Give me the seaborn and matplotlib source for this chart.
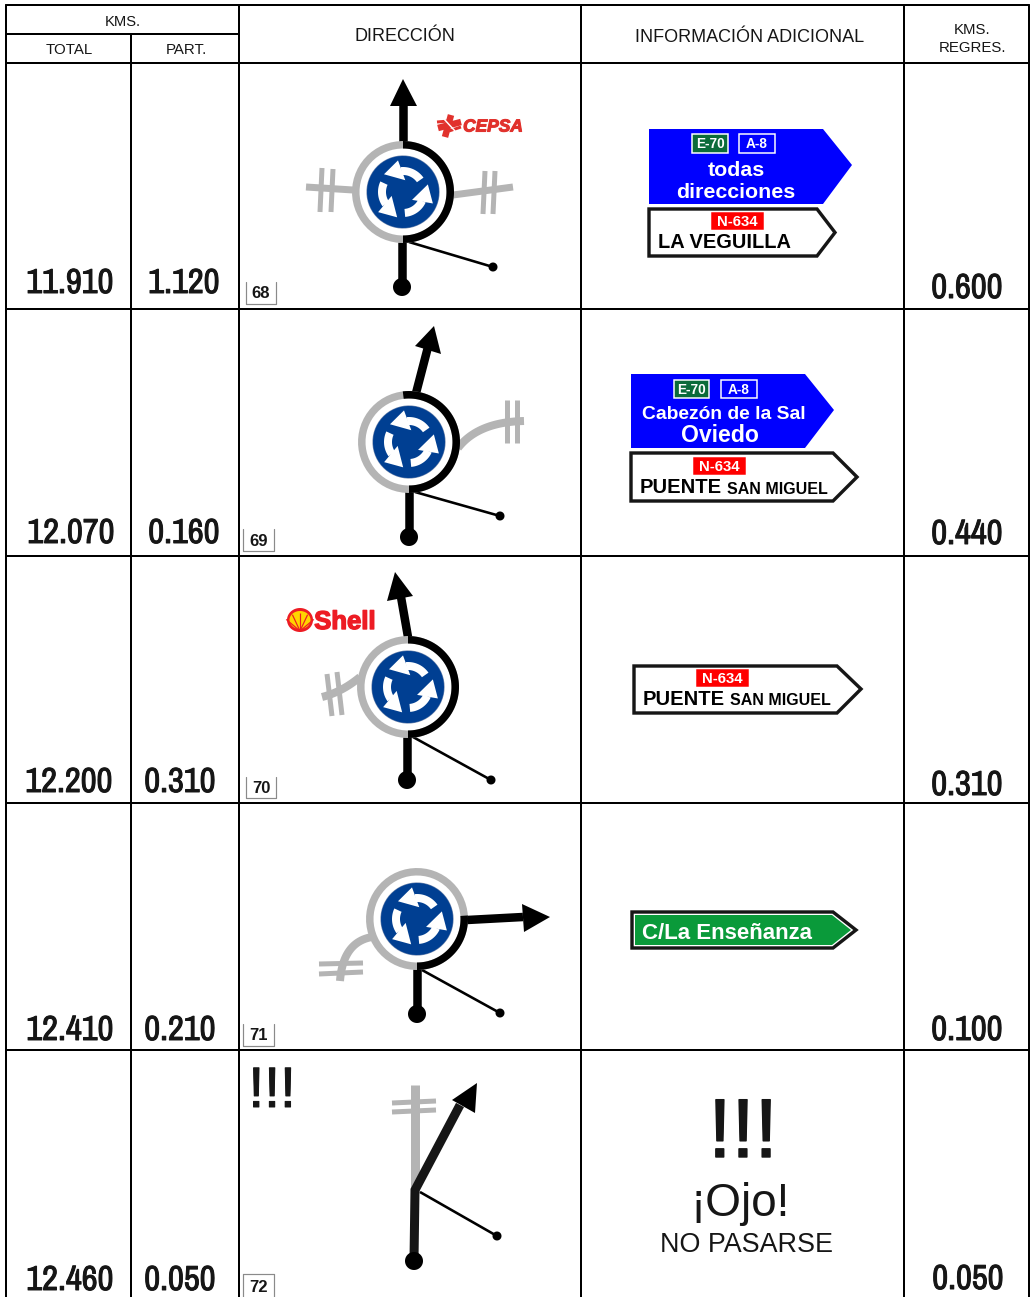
import matplotlib
matplotlib.use("Agg")
import matplotlib.patheffects as pe
import matplotlib.pyplot as plt
import numpy as np
import seaborn as sns

# values of the roadbook
total_km = ["11.910", "12.070", "12.200", "12.410", "12.460"]
part_km = ["1.120", "0.160", "0.310", "0.210", "0.050"]
regres_km = ["0.600", "0.440", "0.310", "0.100", "0.050"]
note_ids = ["68", "69", "70", "71", "72"]
road_e = "E-70"
road_a = "A-8"
road_n = "N-634"

# where the values sit in each row
total_xy = [(70, 283), (71, 533), (69, 782), (70, 1030), (70, 1280)]
part_xy = [(184, 283), (184, 533), (180, 782), (180, 1030), (180, 1280)]
regres_xy = [(967, 288), (967, 534), (967, 785), (967, 1030), (968, 1279)]
note_box = [(246, 276, 282, 304), (243, 274, 529, 551), (246, 276, 777, 798),
            (243, 274, 1024, 1046), (243, 274, 1274, 1300)]
col_x = [6, 131, 239, 581, 904, 1029]
row_y = [63, 309, 556, 803, 1050]

GREY = "#b4b4b4"
DISC = "#003f92"
INK = "#161616"
NARROW = ["Archivo Narrow", "Roboto Condensed", "Liberation Sans Narrow", "Liberation Sans"]

sns.set_theme(style="white")
plt.rcParams["font.family"] = ["Liberation Sans", "DejaVu Sans"]

fig = plt.figure(figsize=(10.34, 12.97), dpi=100)
ax = fig.add_axes([0, 0, 1, 1])
ax.set_xlim(0, 1034)
ax.set_ylim(1297, 0)
ax.axis("off")


def lw(px):
    return px * 0.72


def seg(pts, color="black", w=8.5, z=3, cap="butt"):
    xs, ys = zip(*pts)
    ax.plot(xs, ys, color=color, lw=lw(w), solid_capstyle=cap, solid_joinstyle="miter", zorder=z)


def dot(x, y, r=9, z=5):
    ax.fill(x + r * np.cos(np.linspace(0, 2 * np.pi, 60)), y + r * np.sin(np.linspace(0, 2 * np.pi, 60)),
            color="black", lw=0, zorder=z)


def arc(cx, cy, r0, r1, a0, a1, color, z=4):
    t = np.radians(np.linspace(a0, a1, 60))
    xs = np.r_[cx + r1 * np.cos(t), cx + r0 * np.cos(t[::-1])]
    ys = np.r_[cy - r1 * np.sin(t), cy - r0 * np.sin(t[::-1])]
    ax.fill(xs, ys, color=color, lw=0, zorder=z)


def curve(p0, p1, p2, color=GREY, w=8):
    t = np.linspace(0, 1, 30)
    xs = (1 - t) ** 2 * p0[0] + 2 * t * (1 - t) * p1[0] + t ** 2 * p2[0]
    ys = (1 - t) ** 2 * p0[1] + 2 * t * (1 - t) * p1[1] + t ** 2 * p2[1]
    ax.plot(xs, ys, color=color, lw=lw(w), solid_capstyle="butt", zorder=2)


def head(tip, b0, b1):
    ax.fill([tip[0], b0[0], b1[0]], [tip[1], b0[1], b1[1]], color="black", lw=0, zorder=5)


def roundabout(cx, cy, black_to=90, rot=0):
    arc(cx, cy, 43.5, 51, 0, 360, GREY)
    arc(cx, cy, 43.5, 51, -90, black_to, "black", z=4.5)
    arc(cx, cy, 0, 36.6, 0, 360, "#6f86ad", z=5)
    arc(cx, cy, 0, 36, 0, 360, DISC, z=5.2)
    for k in range(3):
        off = rot + k * 120
        arc(cx, cy, 17, 25, 35 + off, 95 + off, "white", z=6)
        a = np.radians([99 + off, 79 + off, 137 + off])
        r = np.array([32, 12, 26])
        ax.fill(cx + r * np.cos(a), cy - r * np.sin(a), color="white", lw=0, zorder=6)


def stem(x0, y0, x1, y1, tx0, ty0, tx1, ty1):
    seg([(x0, y0), (x1, y1)], w=8.5)
    dot(x1, y1)
    seg([(tx0, ty0), (tx1, ty1)], w=2.6)
    dot(tx1, ty1, r=4.5)


def badge(x0, x1, y0, y1, label, fill, edge="white", size=9.8):
    ax.fill([x0, x1, x1, x0], [y0, y0, y1, y1], facecolor=fill, edgecolor=edge, lw=lw(1.5), zorder=8)
    ax.text((x0 + x1) / 2, (y0 + y1) / 2 + 1, label, color="white", fontsize=size, fontweight="bold",
            ha="center", va="center", zorder=9)


def sign(x0, x1, xt, y0, y1, yt, fill, edge=None):
    xs = [x0, x1, xt, x1, x0]
    ys = [y0, y0, yt, y1, y1]
    if edge:
        ax.fill(xs, ys, facecolor=fill, edgecolor=edge, lw=lw(3.4), joinstyle="miter", zorder=7)
    else:
        ax.fill(xs, ys, color=fill, lw=0, zorder=7)


def txt(x, y, s, size, color=INK, ha="center", weight="normal", z=9, **kw):
    return ax.text(x, y + 1.5, s, fontsize=size, color=color, ha=ha, va="center", fontweight=weight, zorder=z, **kw)


# table rules
for x in col_x:
    y_top = 34 if x == col_x[1] else 5
    ax.plot([x, x], [y_top, 1297], color="black", lw=lw(2), zorder=1)
ax.plot([col_x[0], col_x[-1]], [5, 5], color="black", lw=lw(2), zorder=1)
ax.plot([col_x[0], col_x[2]], [34, 34], color="black", lw=lw(2), zorder=1)
for y in row_y:
    ax.plot([col_x[0], col_x[-1]], [y, y], color="black", lw=lw(2), zorder=1)

# header
txt(123, 21, "KMS.", 10.6)
txt(69, 48, "TOTAL", 10.8)
txt(186, 48, "PART.", 10.8)
txt(405, 35, "DIRECCIÓN", 13)
txt(750, 36, "INFORMACIÓN ADICIONAL", 13)
txt(972, 28, "KMS.", 10.8)
txt(972, 46, "REGRES.", 10.8)

# kilometre columns, the narrow font only comes in regular so thicken it
bold_num = [pe.withStroke(linewidth=0.7, foreground=INK)]
for vals, pos in [(total_km, total_xy), (part_km, part_xy), (regres_km, regres_xy)]:
    for v, (x, y) in zip(vals, pos):
        ax.text(x, y, v, fontsize=25, family=NARROW, fontweight="bold", color=INK, ha="center", va="center",
                path_effects=bold_num)

# note numbers
for n, (x0, x1, y0, y1) in zip(note_ids, note_box):
    ax.plot([x0, x0, x1, x1], [y0, y1, y1, y0], color="#8a8a8a", lw=lw(1.2), zorder=2)
    if n == "72":
        ax.plot([x0, x1], [y0, y0], color="#8a8a8a", lw=lw(1.2), zorder=2)
    ax.text((x0 + x1) / 2, (y0 + y1) / 2 + 1, n, fontsize=12, color=INK, fontweight="bold", ha="center", va="center")

# 68
seg([(306, 187), (353, 190)], GREY, 7, 2)
seg([(322, 168), (320, 212)], GREY, 5, 2)
seg([(333, 169), (331, 212)], GREY, 5, 2)
seg([(453, 195), (513, 187)], GREY, 7, 2)
seg([(485, 171), (483, 214)], GREY, 5, 2)
seg([(495, 171), (493, 214)], GREY, 5, 2)
roundabout(403, 192)
seg([(403, 143), (403, 104)])
head((403, 79), (390, 106), (417, 106))
stem(402, 242, 402, 287, 409, 242, 493, 267)
# cepsa
red = "#e1322d"
seg([(438, 128), (461, 122)], red, 6.5, 3)
seg([(451, 115), (445, 137)], red, 6.5, 3)
seg([(437, 122), (449, 121)], red, 3, 3)
seg([(449, 131), (461, 127)], red, 3, 3)
seg([(444, 119), (455, 131)], "white", 1.5, 3.1)
ax.text(493, 127, "CEPSA", fontsize=12.5, color=red, fontweight="bold", style="italic", ha="center", va="center",
        path_effects=[pe.withStroke(linewidth=0.8, foreground=red)])

# 69
curve((458, 448), (478, 422), (524, 421))
seg([(507, 400), (507, 443)], GREY, 5, 2)
seg([(517, 400), (517, 443)], GREY, 5, 2)
roundabout(409, 442, black_to=97)
seg([(415, 397), (428, 347)])
head((434, 326), (415, 346), (441, 354))
stem(409, 491, 409, 537, 415, 492, 500, 516)

# 70
curve((360, 677), (342, 692), (322, 697))
seg([(327, 674), (332, 716)], GREY, 5, 2)
seg([(337, 672), (342, 715)], GREY, 5, 2)
roundabout(408, 687)
seg([(408, 637), (401, 597)])
head((395, 572), (387, 601), (413, 596))
stem(407, 737, 407, 780, 413, 737, 491, 780)
# shell
s_red = "#ed1c24"
t_sh = np.linspace(0, 2 * np.pi, 60)
ax.fill(300 + 13 * np.cos(t_sh), 620 + 12 * np.sin(t_sh), color=s_red, lw=0, zorder=3)
ax.fill(300 + 10.5 * np.cos(t_sh), 620 + 9 * np.sin(t_sh), color="#ffd500", lw=0, zorder=3.1)
for a in [40, 65, 90, 115, 140]:
    ra = np.radians(a)
    seg([(300, 631), (300 + 18 * np.cos(ra), 631 - 18 * np.sin(ra))], s_red, 1.2, 3.2)
ax.text(345, 622, "Shell", fontsize=18.5, color=s_red, fontweight="bold", ha="center", va="center",
        path_effects=[pe.withStroke(linewidth=1, foreground=s_red)])

# 71
curve((372, 937), (343, 942), (340, 981))
seg([(319, 964), (363, 963)], GREY, 5, 2)
seg([(319, 974), (363, 972)], GREY, 5, 2)
roundabout(417, 919, black_to=4)
seg([(467, 920), (523, 917)])
head((550, 917), (522, 904), (524, 932))
stem(417, 969, 417, 1014, 422, 970, 500, 1013)

# 72
ax.text(272, 1092, "!!!", fontsize=41, color=INK, ha="center", va="center",
        path_effects=[pe.withStroke(linewidth=0.7, foreground=INK)])
seg([(415, 1085), (415, 1192)], GREY, 9, 2)
seg([(392, 1103), (436, 1101)], GREY, 5, 2)
seg([(392, 1112), (436, 1110)], GREY, 5, 2)
ax.plot([414, 415, 460], [1260, 1190, 1105], color=INK, lw=lw(9), solid_capstyle="butt",
        solid_joinstyle="miter", zorder=3)
head((477, 1083), (452, 1100), (475, 1113))
stem(414, 1255, 414, 1261, 420, 1192, 497, 1236)

# signs
sign(649, 823, 852, 129, 204, 165, "#0000ff")
badge(692, 728, 134, 153, road_e, "#0b6b3a")
badge(739, 775, 134, 153, road_a, "#0000ff")
txt(736, 169, "todas", 15.4, "white", weight="bold")
txt(736, 191, "direcciones", 15.4, "white", weight="bold")
sign(649, 817, 835, 209, 256, 232.5, "white", INK)
badge(712, 763, 213, 229, road_n, "#ff0000", "#ff0000", 10.8)
txt(658, 241, "LA VEGUILLA", 14.4, "black", ha="left", weight="bold")

sign(631, 805, 834, 374, 448, 410, "#0000ff")
badge(674, 709, 380, 398, road_e, "#0b6b3a")
badge(721, 757, 380, 398, road_a, "#0000ff")
txt(724, 413, "Cabezón de la Sal", 13.9, "white", weight="bold")
txt(720, 434, "Oviedo", 16.6, "white", weight="bold")
sign(631, 833, 857, 453, 501, 477, "white", INK)
badge(694, 745, 458, 474, road_n, "#ff0000", "#ff0000", 10.8)
txt(640, 486, "PUENTE", 14.5, "black", ha="left", weight="bold")
txt(727, 488, "SAN MIGUEL", 11.5, "black", ha="left", weight="bold")

sign(634, 837, 861, 666, 713, 689, "white", INK)
badge(697, 748, 670, 686, road_n, "#ff0000", "#ff0000", 10.8)
txt(643, 698, "PUENTE", 14.5, "black", ha="left", weight="bold")
txt(730, 699, "SAN MIGUEL", 11.5, "black", ha="left", weight="bold")

sign(632, 833, 856, 912, 948, 930, "white", INK)
ax.fill([635, 832, 851, 832, 635], [915, 915, 930, 945, 945], color="#0a9a3a", lw=0, zorder=7.5)
txt(642, 932, "C/La Enseñanza", 16, "white", ha="left", weight="bold")

ax.text(743, 1135, "!!!", fontsize=60, color=INK, ha="center", va="center",
        path_effects=[pe.withStroke(linewidth=1, foreground=INK)])
txt(740, 1203, "¡Ojo!", 33)
txt(747, 1243, "NO PASARSE", 19.4)

fig.savefig("out.png", dpi=100)
